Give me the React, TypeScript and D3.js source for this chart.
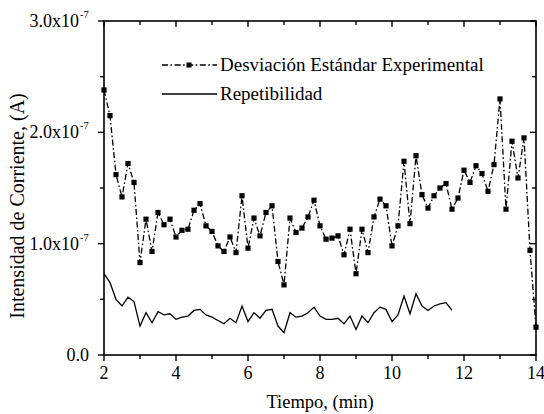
import React from "react";
import * as d3 from "d3";

// Desviación Estándar Experimental (units of 1e-7 A), sampled every 10 s from t = 2 min
const desviacion = [
  2.38, 2.15, 1.62, 1.42, 1.72, 1.55, 0.83, 1.22, 0.93, 1.28, 1.17, 1.22,
  1.06, 1.12, 1.13, 1.30, 1.36, 1.16, 1.11, 0.98, 0.93, 1.06, 0.92, 1.43,
  0.96, 1.23, 1.07, 1.28, 1.34, 0.84, 0.63, 1.23, 1.10, 1.14, 1.24, 1.39,
  1.16, 1.04, 1.05, 1.07, 0.90, 1.13, 0.73, 1.13, 0.92, 1.24, 1.40, 1.34,
  0.98, 1.16, 1.74, 1.18, 1.79, 1.44, 1.32, 1.43, 1.50, 1.54, 1.31, 1.41,
  1.66, 1.55, 1.70, 1.63, 1.47, 1.71, 2.30, 1.31, 1.92, 1.59, 1.95, 0.94,
  0.25,
];

// Repetibilidad (units of 1e-7 A)
const repetibilidad = [
  0.73, 0.65, 0.50, 0.44, 0.52, 0.48, 0.26, 0.38, 0.29, 0.39, 0.36, 0.37,
  0.32, 0.34, 0.35, 0.40, 0.41, 0.36, 0.34, 0.31, 0.28, 0.33, 0.29, 0.44,
  0.30, 0.38, 0.33, 0.40, 0.41, 0.26, 0.20, 0.38, 0.34, 0.35, 0.38, 0.43,
  0.35, 0.32, 0.32, 0.33, 0.28, 0.35, 0.23, 0.35, 0.29, 0.38, 0.43, 0.41,
  0.30, 0.36, 0.53, 0.37, 0.55, 0.44, 0.40, 0.44, 0.46, 0.47, 0.40,
];

const tStart = 2;
const tStep = 1 / 6;

const xMajorTicks = [2, 4, 6, 8, 10, 12, 14];
const xMinorTicks = [3, 5, 7, 9, 11, 13];
const yMajorTicks = [0, 1, 2, 3];
const yMinorTicks = [0.5, 1.5, 2.5];
const yTickLabels = ["0.0", "1.0x10", "2.0x10", "3.0x10"];

const legendLabels = ["Desviación Estándar Experimental", "Repetibilidad"];
const xTitle = "Tiempo, (min)";
const yTitle = "Intensidad de Corriente, (A)";

export default function App() {
  const W = 544;
  const H = 414;
  const x = d3.scaleLinear().domain([2, 14]).range([104, 536]);
  const y = d3.scaleLinear().domain([0, 3]).range([355, 21]);
  const font = '"Liberation Serif", Tinos, "Times New Roman", serif';
  const ts = { fontFamily: font } as React.CSSProperties;

  const dPts = desviacion.map((v, i) => [tStart + i * tStep, v] as [number, number]);
  const rPts = repetibilidad.map((v, i) => [tStart + i * tStep, v] as [number, number]);
  const line = d3
    .line<[number, number]>()
    .x((d) => x(d[0]))
    .y((d) => y(d[1]));

  const [x0, x1] = x.range();
  const [yb, yt] = y.range();
  const major = 6;
  const minor = 4;
  const dash = "6,2.5,1.6,2.5";

  return (
    <svg
      width={W}
      height={H}
      style={{ position: "absolute", left: 0, top: 0, background: "#fff", fontFamily: font }}
    >
      <rect x={0} y={0} width={W} height={H} fill="#fff" />
      {/* data */}
      <path d={line(rPts) || ""} fill="none" stroke="#000" strokeWidth={1.3} />
      <path
        d={line(dPts) || ""}
        fill="none"
        stroke="#000"
        strokeWidth={1.3}
        strokeDasharray={dash}
      />
      {dPts.map((d, i) => (
        <rect key={i} x={x(d[0]) - 2.6} y={y(d[1]) - 2.6} width={5.2} height={5.2} fill="#000" />
      ))}

      {/* frame */}
      <rect
        x={x0}
        y={yt}
        width={x1 - x0}
        height={yb - yt}
        fill="none"
        stroke="#000"
        strokeWidth={1.6}
      />
      {/* x ticks */}
      {xMajorTicks.map((t) => (
        <g key={"xM" + t}>
          <line x1={x(t)} x2={x(t)} y1={yb} y2={yb + major} stroke="#000" strokeWidth={1.4} />
          <line x1={x(t)} x2={x(t)} y1={yt} y2={yt + major} stroke="#000" strokeWidth={1.4} />
          <text x={x(t)} y={yb + 24} fontSize={18} textAnchor="middle" style={ts}>
            {t}
          </text>
        </g>
      ))}
      {xMinorTicks.map((t) => (
        <g key={"xm" + t}>
          <line x1={x(t)} x2={x(t)} y1={yb} y2={yb + minor} stroke="#000" strokeWidth={1.4} />
          <line x1={x(t)} x2={x(t)} y1={yt} y2={yt + minor} stroke="#000" strokeWidth={1.4} />
        </g>
      ))}
      {/* y ticks */}
      {yMajorTicks.map((t, i) => (
        <g key={"yM" + t}>
          <line x1={x0 - major} x2={x0} y1={y(t)} y2={y(t)} stroke="#000" strokeWidth={1.4} />
          <line x1={x1 - major} x2={x1} y1={y(t)} y2={y(t)} stroke="#000" strokeWidth={1.4} />
          <text x={t === 0 ? 89 : 79} y={y(t) + 6} fontSize={18} textAnchor="end" style={ts}>
            {yTickLabels[i]}
          </text>
          {t !== 0 && (
            <text x={80} y={y(t) - 3} fontSize={10.5} textAnchor="start" style={ts}>
              -7
            </text>
          )}
        </g>
      ))}
      {yMinorTicks.map((t) => (
        <g key={"ym" + t}>
          <line x1={x0 - minor} x2={x0} y1={y(t)} y2={y(t)} stroke="#000" strokeWidth={1.4} />
          <line x1={x1 - minor} x2={x1} y1={y(t)} y2={y(t)} stroke="#000" strokeWidth={1.4} />
        </g>
      ))}

      {/* titles */}
      <text x={320} y={408} fontSize={18.5} textAnchor="middle" style={ts}>
        {xTitle}
      </text>
      <text
        transform={`translate(24,${206}) rotate(-90)`}
        fontSize={20}
        textAnchor="middle"
        style={ts}
      >
        {yTitle}
      </text>

      {/* legend */}
      <line x1={162} x2={217} y1={65} y2={65} stroke="#000" strokeWidth={1.3} strokeDasharray={dash} />
      <rect x={186.5} y={62.5} width={5} height={5} fill="#000" />
      <text x={220} y={71} fontSize={19} style={ts}>
        {legendLabels[0]}
      </text>
      <line x1={162} x2={217} y1={94} y2={94} stroke="#000" strokeWidth={1.3} />
      <text x={220} y={100} fontSize={19} style={ts}>
        {legendLabels[1]}
      </text>
    </svg>
  );
}
